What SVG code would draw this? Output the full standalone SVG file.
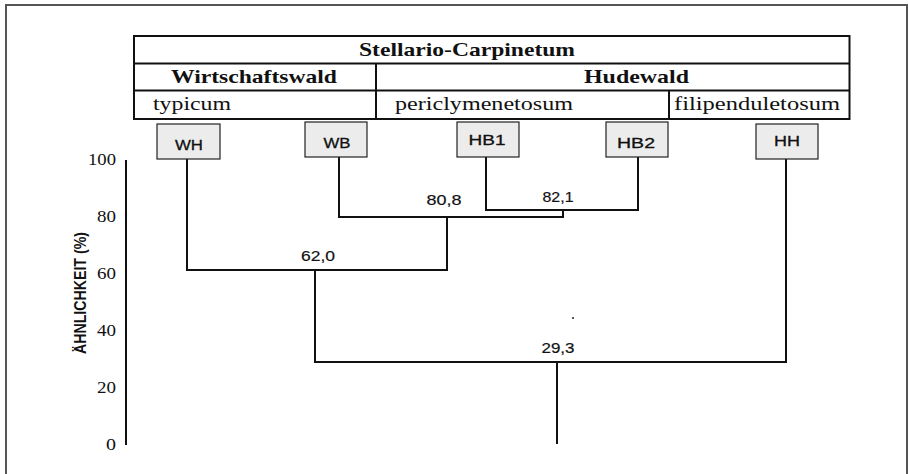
<svg xmlns="http://www.w3.org/2000/svg" width="909" height="474" viewBox="0 0 909 474">
<style>
.frame{fill:none;stroke:#555;stroke-width:2}
.tbl{fill:none;stroke:#111;stroke-width:2}
.hd{font-family:"Liberation Serif",serif;font-size:19.5px;fill:#111}
.b{font-weight:bold}
.leaf rect{fill:#ececec;stroke:#222;stroke-width:1.2}
.leaf text{font-family:"Liberation Sans",Arial,sans-serif;font-size:15px;fill:#111;stroke:#111;stroke-width:0.3;text-anchor:middle}
.edge{fill:none;stroke:#111;stroke-width:2}
.val{font-family:"Liberation Sans",Arial,sans-serif;font-size:15px;fill:#111;stroke:#111;stroke-width:0.2;text-anchor:middle}
.tick{font-family:"Liberation Serif",serif;font-size:17px;fill:#111;text-anchor:end}
.ttl{font-family:"Liberation Sans",Arial,sans-serif;font-size:12px;font-weight:bold;fill:#111;text-anchor:middle}
</style>
<rect width="909" height="474" fill="#fff"/>
<rect class="frame" x="6" y="5" width="901" height="490"/>
<g id="header">
  <rect class="tbl" x="134" y="36" width="715.5" height="83"/>
  <line class="tbl" x1="134" y1="63.5" x2="849.5" y2="63.5"/>
  <line class="tbl" x1="134" y1="90.5" x2="849.5" y2="90.5"/>
  <line class="tbl" x1="376" y1="63.5" x2="376" y2="119"/>
  <line class="tbl" x1="669" y1="90.5" x2="669" y2="119"/>
  <text class="hd b" x="359" y="56" textLength="216" lengthAdjust="spacingAndGlyphs">Stellario-Carpinetum</text>
  <text class="hd b" x="171" y="83" textLength="166" lengthAdjust="spacingAndGlyphs">Wirtschaftswald</text>
  <text class="hd b" x="584" y="83" textLength="105" lengthAdjust="spacingAndGlyphs">Hudewald</text>
  <text class="hd" x="153" y="110" textLength="78" lengthAdjust="spacingAndGlyphs">typicum</text>
  <text class="hd" x="395" y="110" textLength="178" lengthAdjust="spacingAndGlyphs">periclymenetosum</text>
  <text class="hd" x="674" y="110" textLength="166" lengthAdjust="spacingAndGlyphs">filipenduletosum</text>
</g>
<g id="axis">
  <line class="edge" x1="126" y1="160" x2="126" y2="445" stroke-width="1.6"/>
  <text class="tick" x="116" y="165" textLength="28" lengthAdjust="spacingAndGlyphs">100</text>
  <text class="tick" x="116" y="222" textLength="19" lengthAdjust="spacingAndGlyphs">80</text>
  <text class="tick" x="116" y="279" textLength="19" lengthAdjust="spacingAndGlyphs">60</text>
  <text class="tick" x="116" y="336" textLength="19" lengthAdjust="spacingAndGlyphs">40</text>
  <text class="tick" x="116" y="393" textLength="19" lengthAdjust="spacingAndGlyphs">20</text>
  <text class="tick" x="116" y="450" textLength="10" lengthAdjust="spacingAndGlyphs">0</text>
  <text class="ttl" transform="translate(86,293) rotate(-90) scale(1,1.3)" x="0" y="0" textLength="122" lengthAdjust="spacingAndGlyphs">ÄHNLICHKEIT (%)</text>
</g>
<g id="connectors">
  <path class="edge" d="M187,159 V270 H447 V217"/>
  <path class="edge" d="M339,157 V217 H563 V210"/>
  <path class="edge" d="M486,157 V210 H638 V157"/>
  <path class="edge" d="M315,270 V362 H786 V159"/>
  <path class="edge" d="M557,362 V444"/>
  <text class="val" x="444" y="205" textLength="35" lengthAdjust="spacingAndGlyphs">80,8</text>
  <text class="val" x="558" y="202" textLength="31" lengthAdjust="spacingAndGlyphs">82,1</text>
  <text class="val" x="318" y="261" textLength="34" lengthAdjust="spacingAndGlyphs">62,0</text>
  <text class="val" x="558" y="353" textLength="33" lengthAdjust="spacingAndGlyphs">29,3</text>
  <circle cx="573" cy="318" r="1" fill="#222"/>
</g>
<g id="WH" class="leaf"><rect x="157" y="124" width="63" height="35"/><text x="189" y="150" textLength="28" lengthAdjust="spacingAndGlyphs">WH</text></g>
<g id="WB" class="leaf"><rect x="305" y="122" width="62" height="35"/><text x="337" y="148" textLength="27" lengthAdjust="spacingAndGlyphs">WB</text></g>
<g id="HB1" class="leaf"><rect x="457" y="122" width="62" height="35"/><text x="487" y="145" textLength="37" lengthAdjust="spacingAndGlyphs">HB1</text></g>
<g id="HB2" class="leaf"><rect x="606" y="122" width="62" height="35"/><text x="636" y="148" textLength="38" lengthAdjust="spacingAndGlyphs">HB2</text></g>
<g id="HH" class="leaf"><rect x="756" y="124" width="62" height="35"/><text x="787" y="146" textLength="26" lengthAdjust="spacingAndGlyphs">HH</text></g>
</svg>
